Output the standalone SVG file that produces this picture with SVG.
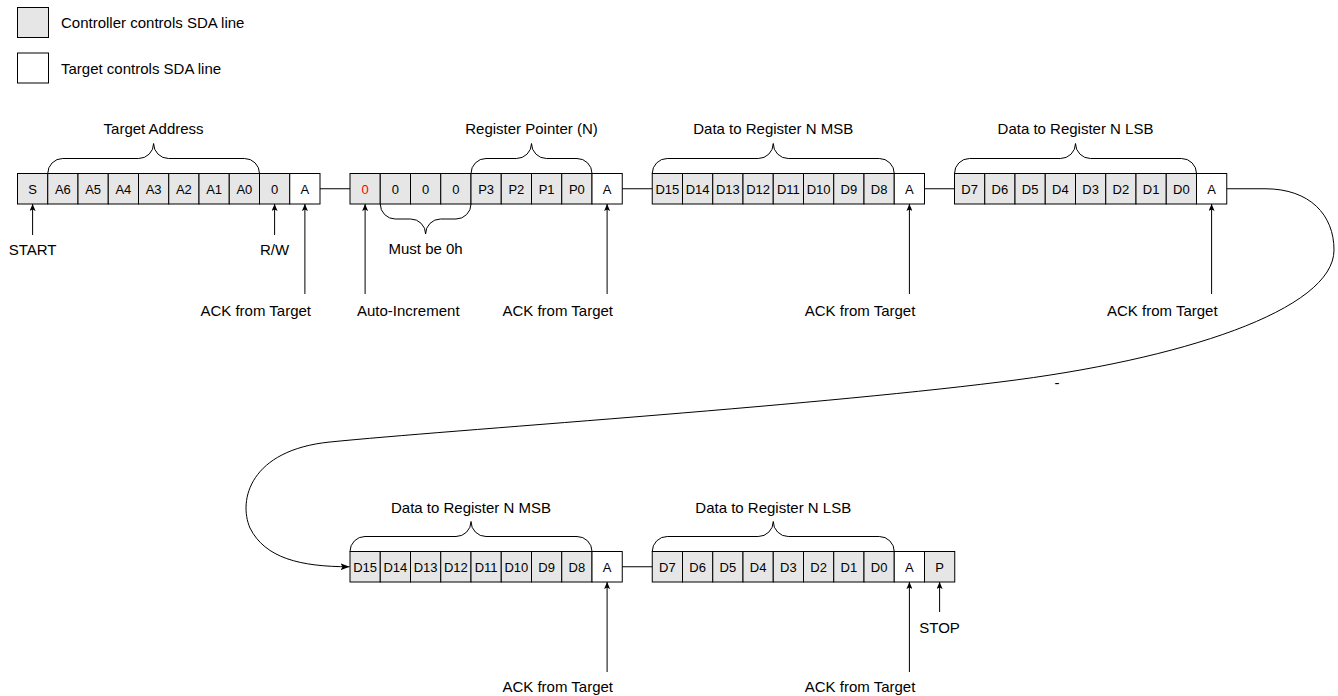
<svg xmlns="http://www.w3.org/2000/svg" width="1338" height="696" viewBox="0 0 1338 696">
<style>
.g{fill:#e6e6e6;stroke:#000;stroke-width:1}
.w{fill:#fff;stroke:#000;stroke-width:1}
.ct{font-family:"Liberation Sans",Arial,sans-serif;font-size:13px;text-anchor:middle;fill:#000}
.lb{font-family:"Liberation Sans",Arial,sans-serif;font-size:15px;fill:#000}
.m{text-anchor:middle}
.e{text-anchor:end}
.br{fill:none;stroke:#000;stroke-width:1}
.ln{fill:none;stroke:#000;stroke-width:1}
.ar{fill:none;stroke:#000;stroke-width:1;marker-end:url(#ah)}
.red{fill:#ff0000}
</style>
<defs>
<marker id="ah" viewBox="0 0 7 6" refX="7" refY="3" markerWidth="7" markerHeight="6" markerUnits="userSpaceOnUse" orient="auto">
<path d="M0,0 L7,3 L0,6 L1.5,3 z" fill="#000"/>
</marker>
<marker id="ah2" viewBox="0 0 9 7" refX="9" refY="3.5" markerWidth="9" markerHeight="7" markerUnits="userSpaceOnUse" orient="auto">
<path d="M0,0 L9,3.5 L0,7 L2,3.5 z" fill="#000"/>
</marker>
</defs>
<rect width="1338" height="696" fill="#fff"/>

<g id="legend-controller">
<rect class="g" x="17.5" y="7.5" width="31" height="30"/>
<text class="lb" x="61" y="28">Controller controls SDA line</text>
</g>
<g id="legend-target">
<rect class="w" x="17.5" y="53" width="31" height="30"/>
<text class="lb" x="61" y="74">Target controls SDA line</text>
</g>

<g id="seg-address">
<rect class="g" x="17.5" y="173.5" width="30.25" height="30.5"/>
<rect class="g" x="47.75" y="173.5" width="30.25" height="30.5"/>
<rect class="g" x="78" y="173.5" width="30.25" height="30.5"/>
<rect class="g" x="108.25" y="173.5" width="30.25" height="30.5"/>
<rect class="g" x="138.5" y="173.5" width="30.25" height="30.5"/>
<rect class="g" x="168.75" y="173.5" width="30.25" height="30.5"/>
<rect class="g" x="199" y="173.5" width="30.25" height="30.5"/>
<rect class="g" x="229.25" y="173.5" width="30.25" height="30.5"/>
<rect class="g" x="259.5" y="173.5" width="30.25" height="30.5"/>
<rect class="w" x="289.75" y="173.5" width="30.25" height="30.5"/>
<text class="ct" x="32.6" y="193.6">S</text>
<text class="ct" x="62.9" y="193.6">A6</text>
<text class="ct" x="93.1" y="193.6">A5</text>
<text class="ct" x="123.4" y="193.6">A4</text>
<text class="ct" x="153.6" y="193.6">A3</text>
<text class="ct" x="183.9" y="193.6">A2</text>
<text class="ct" x="214.1" y="193.6">A1</text>
<text class="ct" x="244.4" y="193.6">A0</text>
<text class="ct" x="274.6" y="193.6">0</text>
<text class="ct" x="304.9" y="193.6">A</text>
</g>

<g id="seg-pointer">
<rect class="g" x="350" y="173.5" width="30.25" height="30.5"/>
<rect class="g" x="380.25" y="173.5" width="30.25" height="30.5"/>
<rect class="g" x="410.5" y="173.5" width="30.25" height="30.5"/>
<rect class="g" x="440.75" y="173.5" width="30.25" height="30.5"/>
<rect class="g" x="471" y="173.5" width="30.25" height="30.5"/>
<rect class="g" x="501.25" y="173.5" width="30.25" height="30.5"/>
<rect class="g" x="531.5" y="173.5" width="30.25" height="30.5"/>
<rect class="g" x="561.75" y="173.5" width="30.25" height="30.5"/>
<rect class="w" x="592" y="173.5" width="30.25" height="30.5"/>
<text class="ct red" x="365.1" y="193.6">0</text>
<text class="ct" x="395.4" y="193.6">0</text>
<text class="ct" x="425.6" y="193.6">0</text>
<text class="ct" x="455.9" y="193.6">0</text>
<text class="ct" x="486.1" y="193.6">P3</text>
<text class="ct" x="516.4" y="193.6">P2</text>
<text class="ct" x="546.6" y="193.6">P1</text>
<text class="ct" x="576.9" y="193.6">P0</text>
<text class="ct" x="607.1" y="193.6">A</text>
</g>

<g id="seg-msb-1">
<rect class="g" x="652.25" y="173.5" width="30.25" height="30.5"/>
<rect class="g" x="682.5" y="173.5" width="30.25" height="30.5"/>
<rect class="g" x="712.75" y="173.5" width="30.25" height="30.5"/>
<rect class="g" x="743" y="173.5" width="30.25" height="30.5"/>
<rect class="g" x="773.25" y="173.5" width="30.25" height="30.5"/>
<rect class="g" x="803.5" y="173.5" width="30.25" height="30.5"/>
<rect class="g" x="833.75" y="173.5" width="30.25" height="30.5"/>
<rect class="g" x="864" y="173.5" width="30.25" height="30.5"/>
<rect class="w" x="894.25" y="173.5" width="30.25" height="30.5"/>
<text class="ct" x="667.4" y="193.6">D15</text>
<text class="ct" x="697.6" y="193.6">D14</text>
<text class="ct" x="727.9" y="193.6">D13</text>
<text class="ct" x="758.1" y="193.6">D12</text>
<text class="ct" x="788.4" y="193.6">D11</text>
<text class="ct" x="818.6" y="193.6">D10</text>
<text class="ct" x="848.9" y="193.6">D9</text>
<text class="ct" x="879.1" y="193.6">D8</text>
<text class="ct" x="909.4" y="193.6">A</text>
</g>

<g id="seg-lsb-1">
<rect class="g" x="954.5" y="173.5" width="30.25" height="30.5"/>
<rect class="g" x="984.75" y="173.5" width="30.25" height="30.5"/>
<rect class="g" x="1015" y="173.5" width="30.25" height="30.5"/>
<rect class="g" x="1045.25" y="173.5" width="30.25" height="30.5"/>
<rect class="g" x="1075.5" y="173.5" width="30.25" height="30.5"/>
<rect class="g" x="1105.75" y="173.5" width="30.25" height="30.5"/>
<rect class="g" x="1136" y="173.5" width="30.25" height="30.5"/>
<rect class="g" x="1166.25" y="173.5" width="30.25" height="30.5"/>
<rect class="w" x="1196.5" y="173.5" width="30.25" height="30.5"/>
<text class="ct" x="969.6" y="193.6">D7</text>
<text class="ct" x="999.9" y="193.6">D6</text>
<text class="ct" x="1030.1" y="193.6">D5</text>
<text class="ct" x="1060.4" y="193.6">D4</text>
<text class="ct" x="1090.6" y="193.6">D3</text>
<text class="ct" x="1120.9" y="193.6">D2</text>
<text class="ct" x="1151.1" y="193.6">D1</text>
<text class="ct" x="1181.4" y="193.6">D0</text>
<text class="ct" x="1211.6" y="193.6">A</text>
</g>

<g id="seg-msb-2">
<rect class="g" x="350" y="551.5" width="30.25" height="30.5"/>
<rect class="g" x="380.25" y="551.5" width="30.25" height="30.5"/>
<rect class="g" x="410.5" y="551.5" width="30.25" height="30.5"/>
<rect class="g" x="440.75" y="551.5" width="30.25" height="30.5"/>
<rect class="g" x="471" y="551.5" width="30.25" height="30.5"/>
<rect class="g" x="501.25" y="551.5" width="30.25" height="30.5"/>
<rect class="g" x="531.5" y="551.5" width="30.25" height="30.5"/>
<rect class="g" x="561.75" y="551.5" width="30.25" height="30.5"/>
<rect class="w" x="592" y="551.5" width="30.25" height="30.5"/>
<text class="ct" x="365.1" y="571.6">D15</text>
<text class="ct" x="395.4" y="571.6">D14</text>
<text class="ct" x="425.6" y="571.6">D13</text>
<text class="ct" x="455.9" y="571.6">D12</text>
<text class="ct" x="486.1" y="571.6">D11</text>
<text class="ct" x="516.4" y="571.6">D10</text>
<text class="ct" x="546.6" y="571.6">D9</text>
<text class="ct" x="576.9" y="571.6">D8</text>
<text class="ct" x="607.1" y="571.6">A</text>
</g>

<g id="seg-lsb-2">
<rect class="g" x="652.25" y="551.5" width="30.25" height="30.5"/>
<rect class="g" x="682.5" y="551.5" width="30.25" height="30.5"/>
<rect class="g" x="712.75" y="551.5" width="30.25" height="30.5"/>
<rect class="g" x="743" y="551.5" width="30.25" height="30.5"/>
<rect class="g" x="773.25" y="551.5" width="30.25" height="30.5"/>
<rect class="g" x="803.5" y="551.5" width="30.25" height="30.5"/>
<rect class="g" x="833.75" y="551.5" width="30.25" height="30.5"/>
<rect class="g" x="864" y="551.5" width="30.25" height="30.5"/>
<rect class="w" x="894.25" y="551.5" width="30.25" height="30.5"/>
<rect class="g" x="924.5" y="551.5" width="30.25" height="30.5"/>
<text class="ct" x="667.4" y="571.6">D7</text>
<text class="ct" x="697.6" y="571.6">D6</text>
<text class="ct" x="727.9" y="571.6">D5</text>
<text class="ct" x="758.1" y="571.6">D4</text>
<text class="ct" x="788.4" y="571.6">D3</text>
<text class="ct" x="818.6" y="571.6">D2</text>
<text class="ct" x="848.9" y="571.6">D1</text>
<text class="ct" x="879.1" y="571.6">D0</text>
<text class="ct" x="909.4" y="571.6">A</text>
<text class="ct" x="939.6" y="571.6">P</text>
</g>

<g id="brace-target-address">
<path class="br" d="M47.75,173.5 A15,15 0 0 1 62.75,158.5 L138.6,158.5 A15,15 0 0 0 153.6,143.5 A15,15 0 0 0 168.6,158.5 L244.5,158.5 A15,15 0 0 1 259.5,173.5"/>
<text class="lb m" x="153.6" y="134">Target Address</text>
</g>
<g id="brace-register-pointer">
<path class="br" d="M471,173.5 A15,15 0 0 1 486,158.5 L516.5,158.5 A15,15 0 0 0 531.5,143.5 A15,15 0 0 0 546.5,158.5 L577,158.5 A15,15 0 0 1 592,173.5"/>
<text class="lb m" x="531.5" y="134">Register Pointer (N)</text>
</g>
<g id="brace-must-be-0h">
<path class="br" d="M380.25,204 A15,15 0 0 0 395.25,219 L410.6,219 A15,15 0 0 1 425.6,234 A15,15 0 0 1 440.6,219 L456,219 A15,15 0 0 0 471,204"/>
<text class="lb m" x="425.6" y="254">Must be 0h</text>
</g>
<g id="brace-msb-1">
<path class="br" d="M652.25,173.5 A15,15 0 0 1 667.25,158.5 L758.25,158.5 A15,15 0 0 0 773.25,143.5 A15,15 0 0 0 788.25,158.5 L879.25,158.5 A15,15 0 0 1 894.25,173.5"/>
<text class="lb m" x="773.25" y="134">Data to Register N MSB</text>
</g>
<g id="brace-lsb-1">
<path class="br" d="M954.5,173.5 A15,15 0 0 1 969.5,158.5 L1060.5,158.5 A15,15 0 0 0 1075.5,143.5 A15,15 0 0 0 1090.5,158.5 L1181.5,158.5 A15,15 0 0 1 1196.5,173.5"/>
<text class="lb m" x="1075.5" y="134">Data to Register N LSB</text>
</g>
<g id="brace-msb-2">
<path class="br" d="M350,551.5 A15,15 0 0 1 365,536.5 L456,536.5 A15,15 0 0 0 471,521.5 A15,15 0 0 0 486,536.5 L577,536.5 A15,15 0 0 1 592,551.5"/>
<text class="lb m" x="471" y="512.5">Data to Register N MSB</text>
</g>
<g id="brace-lsb-2">
<path class="br" d="M652.25,551.5 A15,15 0 0 1 667.25,536.5 L758.25,536.5 A15,15 0 0 0 773.25,521.5 A15,15 0 0 0 788.25,536.5 L879.25,536.5 A15,15 0 0 1 894.25,551.5"/>
<text class="lb m" x="773.25" y="512.5">Data to Register N LSB</text>
</g>

<g id="labels">
<text class="lb m" x="32.6" y="254.5">START</text>
<text class="lb m" x="274.6" y="254.5">R/W</text>
<text class="lb e" x="311" y="315.5">ACK from Target</text>
<text class="lb" x="357" y="315.5">Auto-Increment</text>
<text class="lb e" x="613" y="315.5">ACK from Target</text>
<text class="lb e" x="915.4" y="315.5">ACK from Target</text>
<text class="lb e" x="1217.6" y="315.5">ACK from Target</text>
<text class="lb m" x="1057" y="388">-</text>
<text class="lb e" x="613" y="692">ACK from Target</text>
<text class="lb e" x="915.4" y="692">ACK from Target</text>
<text class="lb m" x="939.6" y="632.5">STOP</text>
</g>

<g id="connectors">
<line class="ln" x1="320" y1="188.75" x2="350" y2="188.75"/>
<line class="ln" x1="622.25" y1="188.75" x2="652.25" y2="188.75"/>
<line class="ln" x1="924.5" y1="188.75" x2="954.5" y2="188.75"/>
<line class="ln" x1="622.25" y1="566.75" x2="652.25" y2="566.75"/>
<line class="ar" x1="32.6" y1="235" x2="32.6" y2="204"/>
<line class="ar" x1="274.6" y1="235" x2="274.6" y2="204"/>
<line class="ar" x1="304.9" y1="294" x2="304.9" y2="204"/>
<line class="ar" x1="365.1" y1="294" x2="365.1" y2="204"/>
<line class="ar" x1="607.1" y1="294" x2="607.1" y2="204"/>
<line class="ar" x1="909.4" y1="294" x2="909.4" y2="204"/>
<line class="ar" x1="1211.6" y1="294" x2="1211.6" y2="204"/>
<line class="ar" x1="607.1" y1="672" x2="607.1" y2="582"/>
<line class="ar" x1="909.4" y1="672" x2="909.4" y2="582"/>
<line class="ar" x1="939.6" y1="612" x2="939.6" y2="582"/>
<path class="ln" marker-end="url(#ah2)" d="M1226.75,188.75 L1265,188.75 C1310,188.75 1334,215 1334,250 C1334,310 1180,360 1000,382 C800,407 450,430 330,442 C250,450 238,500 250,528 C265,558 300,566.75 349.5,566.75"/>
</g>
</svg>
